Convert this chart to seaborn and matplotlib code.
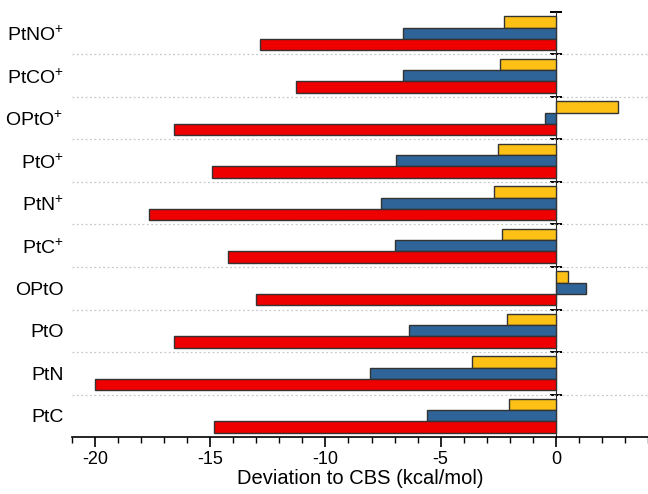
import numpy as np
import pandas as pd
import matplotlib
matplotlib.use("Agg")
import matplotlib.pyplot as plt
from matplotlib.ticker import MultipleLocator
import seaborn as sns

# Molecules, listed top to bottom
molecules = ["PtNO+", "PtCO+", "OPtO+", "PtO+", "PtN+", "PtC+", "OPtO", "PtO", "PtN", "PtC"]
mol_labels = [r"$\mathregular{PtNO^{+}}$", r"$\mathregular{PtCO^{+}}$", r"$\mathregular{OPtO^{+}}$",
              r"$\mathregular{PtO^{+}}$", r"$\mathregular{PtN^{+}}$", r"$\mathregular{PtC^{+}}$",
              "OPtO", "PtO", "PtN", "PtC"]

# Deviation to CBS (kcal/mol) for three methods
dev_a = [-2.26, -2.42, 2.68, -2.53, -2.69, -2.34, 0.51, -2.14, -3.63, -2.03]
dev_b = [-6.65, -6.65, -0.45, -6.94, -7.61, -6.97, 1.31, -6.36, -8.06, -5.58]
dev_c = [-12.83, -11.29, -16.56, -14.92, -17.64, -14.24, -13.02, -16.57, -20.00, -14.84]

methods = ["A", "B", "C"]
colors = ["#FDC116", "#2F6498", "#EE0000"]

df = pd.concat([
    pd.DataFrame({"mol": molecules, "dev": vals, "method": m})
    for m, vals in zip(methods, [dev_a, dev_b, dev_c])
], ignore_index=True)

sns.set_style("ticks")
plt.rcParams["font.family"] = ["Liberation Sans", "DejaVu Sans"]
plt.rcParams["mathtext.fontset"] = "custom"
plt.rcParams["mathtext.rm"] = "Liberation Sans"
plt.rcParams["mathtext.it"] = "Liberation Sans:italic"
plt.rcParams["mathtext.bf"] = "Liberation Sans:bold"
plt.rcParams["axes.unicode_minus"] = False
plt.rcParams["text.color"] = "black"
plt.rcParams["axes.labelcolor"] = "black"
plt.rcParams["xtick.color"] = "black"
plt.rcParams["ytick.color"] = "black"

fig = plt.figure(figsize=(6.48, 4.94), dpi=100)
ax = fig.add_axes([72 / 648, 57 / 494, 576 / 648, 425 / 494])

sns.barplot(data=df, x="dev", y="mol", hue="method", order=molecules,
            hue_order=methods, palette=colors, saturation=1,
            edgecolor="#333333", linewidth=1.0, legend=False, ax=ax)

n = len(molecules)
xmin, xmax = -21, 4
ax.set_xlim(xmin, xmax)
ax.set_ylim(n - 0.5, -0.5)

# x axis: labelled every 5, minor every 1
ax.xaxis.set_major_locator(MultipleLocator(5))
ax.xaxis.set_minor_locator(MultipleLocator(1))
ax.tick_params(axis="x", which="major", bottom=True, direction="out", length=7, width=1.2,
               labelsize=13, pad=3, color="black", labelcolor="black")
ax.tick_params(axis="x", which="minor", bottom=True, direction="out", length=4, width=1.0,
               color="black")
ax.set_xlabel("Deviation to CBS (kcal/mol)", fontsize=14.5, labelpad=1, color="black")
ax.set_ylabel("")

# y axis: category labels on the left, dotted separators between groups
ax.set_yticks(range(n))
ax.set_yticklabels(mol_labels, fontsize=14, color="black")
ax.set_yticks(np.arange(n - 1) + 0.5, minor=True)
ax.tick_params(axis="y", which="both", length=0, pad=6)
ax.grid(False)
ax.grid(which="minor", axis="y", color="#c8c8c8", linestyle=(0, (1.5, 2)), linewidth=0.9)
ax.set_axisbelow(True)

for side in ["left", "top", "right"]:
    ax.spines[side].set_visible(False)
ax.spines["bottom"].set_linewidth(1.2)
ax.spines["bottom"].set_color("black")

# zero line acting as the vertical axis, with ticks at group boundaries
zero_pos = (0 - xmin) / (xmax - xmin)
sec = ax.secondary_yaxis(zero_pos)
sec.set_yticks(np.arange(n) - 0.5)
sec.set_yticklabels([])
sec.tick_params(axis="y", which="major", left=True, direction="inout", length=8, width=1.3,
                color="black")
sec.tick_params(axis="y", which="minor", left=False, length=0)
sec.spines["left"].set_linewidth(1.2)
sec.spines["left"].set_color("black")

fig.savefig("out.png", dpi=100)
